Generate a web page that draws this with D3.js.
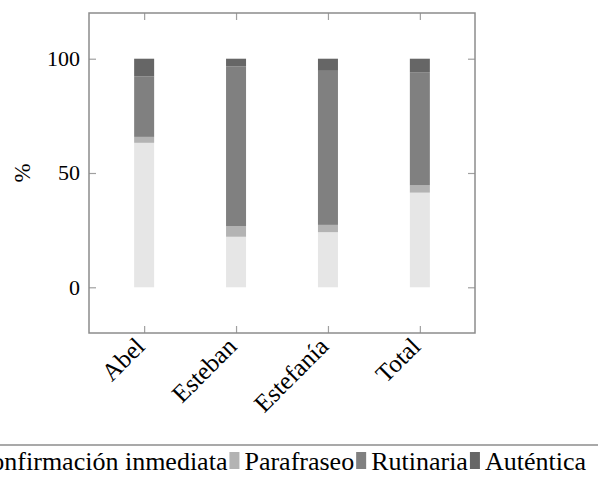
<!DOCTYPE html>
<html>
<head>
<meta charset="utf-8">
<script src="https://cdn.jsdelivr.net/npm/d3@7"></script>
<style>
  body { margin: 0; background: #fff; }
  text { font-family: "Liberation Serif", "Times New Roman", serif; fill: #000; }
</style>
</head>
<body>
<div id="chart"></div>
<script>
// data (percent of each person's turns)
var categories = ["Abel", "Esteban", "Estefanía", "Total"];
var confirmacion = [63.2, 22.1, 24.1, 41.4];
var parafraseo = [2.6, 4.6, 3.2, 3.2];
var rutinaria = [26.5, 69.9, 67.4, 49.5];
var autentica = [7.7, 3.4, 5.3, 5.9];
var seriesNames = ["Confirmación inmediata", "Parafraseo", "Rutinaria", "Auténtica"];
var yTicks = [0, 50, 100];

var colors = ["#e6e6e6", "#b3b3b3", "#808080", "#666666"];
var keys = ["conf", "para", "rut", "aut"];

var W = 598, H = 478;
var pl = 89, pr = 475, pt = 13, pb = 333;

var rows = categories.map(function (c, i) {
    return { cat: c, conf: confirmacion[i], para: parafraseo[i], rut: rutinaria[i], aut: autentica[i] };
});

var svg = d3.select("#chart").append("svg")
    .attr("width", W)
    .attr("height", H);

var x = d3.scalePoint()
    .domain(categories)
    .range([pl, pr])
    .padding(0.6);

var y = d3.scaleLinear()
    .domain([-20, 120])
    .range([pb, pt]);

var stacked = d3.stack().keys(keys)(rows);

var barW = 20;
var layer = svg.selectAll(".layer")
    .data(stacked)
    .enter().append("g")
    .attr("class", "layer")
    .style("fill", function (d, i) { return colors[i]; });

layer.selectAll("rect")
    .data(function (d) { return d; })
    .enter().append("rect")
    .attr("x", function (d) { return x(d.data.cat) - barW / 2; })
    .attr("y", function (d) { return y(d[1]); })
    .attr("width", barW)
    .attr("height", function (d) { return y(d[0]) - y(d[1]); });

var axisColor = "#8c8c8c";
var tickLen = 7;

// inward ticks on all four sides
var xb = svg.append("g").attr("transform", "translate(0," + pb + ")")
    .call(d3.axisBottom(x).tickSizeInner(-tickLen).tickSizeOuter(0).tickFormat(""));
var xt = svg.append("g").attr("transform", "translate(0," + pt + ")")
    .call(d3.axisTop(x).tickSizeInner(-tickLen).tickSizeOuter(0).tickFormat(""));
var yl = svg.append("g").attr("transform", "translate(" + pl + ",0)")
    .call(d3.axisLeft(y).tickValues(yTicks).tickSizeInner(-tickLen).tickSizeOuter(0).tickFormat(""));
var yr = svg.append("g").attr("transform", "translate(" + pr + ",0)")
    .call(d3.axisRight(y).tickValues(yTicks).tickSizeInner(-tickLen).tickSizeOuter(0).tickFormat(""));
[xb, xt, yl, yr].forEach(function (g) {
    g.select(".domain").remove();
    g.selectAll("line").attr("stroke", "#a0a0a0").attr("stroke-width", 1.2);
});

svg.append("rect")
    .attr("x", pl).attr("y", pt)
    .attr("width", pr - pl).attr("height", pb - pt)
    .attr("fill", "none")
    .attr("stroke", axisColor)
    .attr("stroke-width", 1.5);

// y tick labels
svg.selectAll(".ylab")
    .data(yTicks)
    .enter().append("text")
    .attr("class", "ylab")
    .attr("x", pl - 9)
    .attr("y", function (d) { return y(d); })
    .attr("dy", "0.34em")
    .attr("text-anchor", "end")
    .style("font-size", "22px")
    .text(function (d) { return d; });

// rotated category labels
svg.selectAll(".xlab")
    .data(categories)
    .enter().append("text")
    .attr("class", "xlab")
    .attr("transform", function (d) { return "translate(" + (x(d) - 4) + "," + (pb + 9) + ") rotate(-45)"; })
    .attr("dy", "0.34em")
    .attr("text-anchor", "end")
    .style("font-size", "25px")
    .text(function (d) { return d; });

// y axis title
svg.append("text")
    .attr("transform", "translate(22," + ((pt + pb) / 2) + ") rotate(-90)")
    .attr("dy", "0.34em")
    .attr("text-anchor", "middle")
    .style("font-size", "23px")
    .text("%");

// legend: rule across the page, then entries laid out right to left
svg.append("line")
    .attr("x1", 0).attr("x2", W)
    .attr("y1", 445).attr("y2", 445)
    .attr("stroke", axisColor)
    .attr("stroke-width", 1.5);

var legY = 470, swW = 10, swH = 17, gapSw = 5, gapTxt = 2;
var cursor = 586;
for (var i = seriesNames.length - 1; i >= 0; i--) {
    var t = svg.append("text")
        .attr("y", legY)
        .attr("text-anchor", "start")
        .style("font-size", "26px")
        .text(seriesNames[i]);
    var len = t.node().getComputedTextLength();
    cursor -= len;
    t.attr("x", cursor);
    cursor -= gapSw + swW;
    svg.append("rect")
        .attr("x", cursor).attr("y", legY - swH - 1)
        .attr("width", swW).attr("height", swH)
        .attr("fill", colors[i]);
    cursor -= gapTxt;
}
</script>
</body>
</html>
